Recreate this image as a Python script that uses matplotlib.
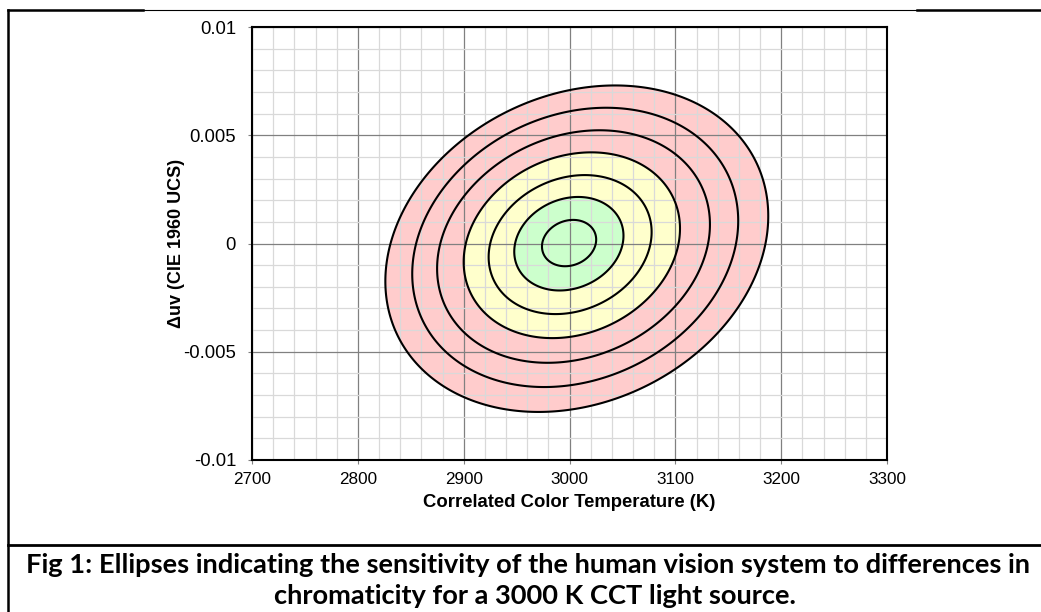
import numpy as np
import matplotlib
matplotlib.use('Agg')
import matplotlib.pyplot as plt
from matplotlib.lines import Line2D
from matplotlib.patches import Polygon
from matplotlib.ticker import MultipleLocator

# Axis ticks
cct_ticks = [2700, 2800, 2900, 3000, 3100, 3200, 3300]
duv_ticks = [-0.01, -0.005, 0, 0.005, 0.01]
duv_labels = ['-0.01', '-0.005', '0', '0.005', '0.01']

# Ellipses (step 1..7)
steps = [1, 2, 3, 4, 5, 6, 7]
center_cct = [2999.6, 2999.4, 3000.6, 3002.2, 3003.8, 3005.4, 3006.9]
center_duv = [0.00002, -0.00001, -0.00005, -0.00008, -0.00014, -0.00018, -0.00024]
half_cct = [25.6, 51.6, 77.0, 102.2, 128.9, 154.0, 180.9]
half_duv = [0.00107, 0.00216, 0.00321, 0.00429, 0.00537, 0.00645, 0.00754]
tilt = [0.15, 0.17, 0.18, 0.18, 0.19, 0.19, 0.20]

# Shaded zones: outer step of each zone and its colour
zone_steps = [7, 4, 2]
zone_colors = ['#ffcccc', '#ffffcc', '#ccffcc']

caption_1 = 'Fig 1: Ellipses indicating the sensitivity of the human vision system to differences in'
caption_2 = 'chromaticity for a 3000 K CCT light source.'

plt.rcParams['font.family'] = ['Liberation Sans', 'DejaVu Sans']

W, H = 1041, 612
fig = plt.figure(figsize=(W / 100, H / 100), dpi=100)
ax = fig.add_axes([252 / W, 1 - 460 / H, 635 / W, 433 / H])


def ellipse_xy(step):
    # ellipse with given half extents; tilt = correlation between the two axes
    i = steps.index(step)
    t = np.linspace(0, 2 * np.pi, 400)
    d = np.arccos(tilt[i])
    x = center_cct[i] + half_cct[i] * np.cos(t)
    y = center_duv[i] + half_duv[i] * np.cos(t - d)
    return np.column_stack([x, y])


# Coloured zones
for s, c in zip(zone_steps, zone_colors):
    ax.add_patch(Polygon(ellipse_xy(s), closed=True, facecolor=c, lw=0, zorder=0.2))

# Ellipse outlines
for s in steps:
    ax.add_patch(Polygon(ellipse_xy(s), closed=True, fill=False,
                         edgecolor='black', lw=1.5, zorder=2))

ax.set_xlim(2700, 3300)
ax.set_ylim(-0.01, 0.01)
ax.set_xticks(cct_ticks)
ax.set_yticks(duv_ticks)
ax.set_yticklabels(duv_labels)
ax.xaxis.set_minor_locator(MultipleLocator(20))
ax.yaxis.set_minor_locator(MultipleLocator(0.001))

# Grid
ax.set_axisbelow(True)
ax.grid(which='major', color='#808080', lw=0.9)
ax.grid(which='minor', color='#d9d9d9', lw=0.9)
ax.tick_params(which='minor', length=0)
ax.tick_params(which='major', direction='out', length=3, width=0.8, color='#808080')
ax.tick_params(axis='y', labelsize=13.3, pad=8.5)
ax.tick_params(axis='x', labelsize=12.3, pad=5.5)
for sp in ax.spines.values():
    sp.set_color('black')
    sp.set_linewidth(1.5)

ax.set_xlabel('Correlated Color Temperature (K)', fontsize=13.3, fontweight='bold')
ax.xaxis.set_label_coords(0.5, -0.079)
ax.set_ylabel('\u0394uv (CIE 1960 UCS)', fontsize=13, fontweight='bold')
ax.yaxis.set_label_coords(-0.105, 0.5)

# Table borders around the figure
def fig_line(x0, x1, y0, y1, lw):
    fig.add_artist(Line2D([x0 / W, x1 / W], [1 - y0 / H, 1 - y1 / H],
                          color='black', lw=lw, transform=fig.transFigure))

fig_line(8, W, 10, 10, 0.8)
fig_line(8, 143, 10, 10, 1.8)
fig_line(917, W, 10, 10, 1.8)
fig_line(8, 8, 10, H, 1.8)
fig_line(8, W, 545, 545, 2.0)

# Caption
fig.text(528 / W, 1 - 573 / H, caption_1, ha='center', va='baseline',
         fontsize=19.6, fontweight='bold', family='Lato')
fig.text(535 / W, 1 - 604 / H, caption_2, ha='center', va='baseline',
         fontsize=19.6, fontweight='bold', family='Lato')

fig.savefig('out.png', dpi=100)
